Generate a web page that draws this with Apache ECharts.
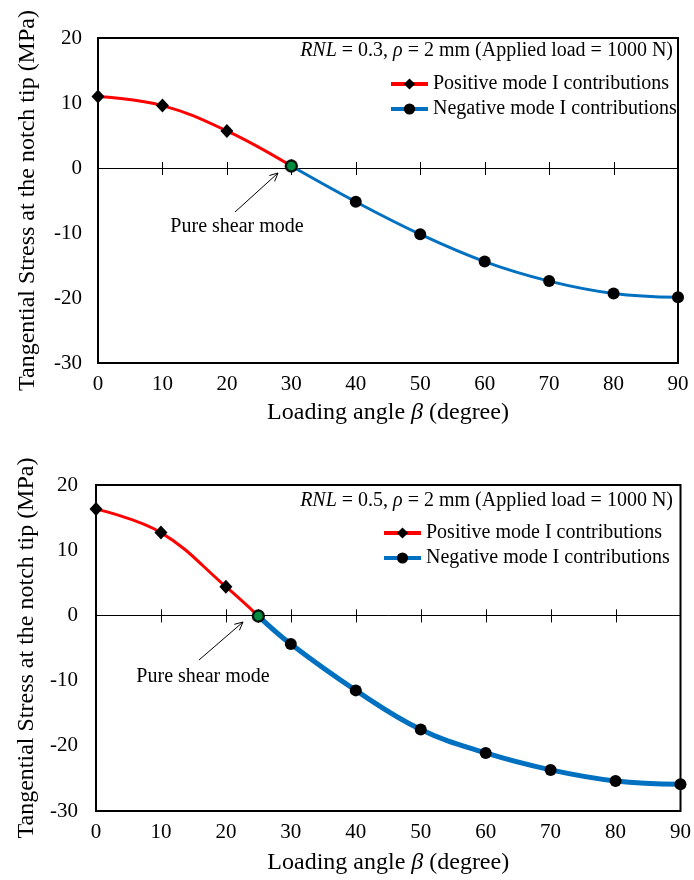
<!DOCTYPE html>
<html><head><meta charset="utf-8">
<script src="https://cdn.jsdelivr.net/npm/echarts@6/dist/echarts.min.js"></script>
<style>html,body{margin:0;padding:0;background:#fff}#c{width:694px;height:880px}</style>
</head><body><div id="c"></div>
<script>
// ---- data ----
const xMin = 0, xMax = 90, xStep = 10;
const yMin = -30, yMax = 20, yStep = 10;
const xTickValues = [10, 20, 30, 40, 50, 60, 70, 80];
const posName = 'Positive mode I contributions';
const negName = 'Negative mode I contributions';

// top panel: RNL = 0.3
const topPosX = [0, 10, 20, 30];
const topPosY = [11.0, 9.6, 5.7, 0.3];
const topNegX = [30, 40, 50, 60, 70, 80, 90];
const topNegY = [0.3, -5.2, -10.2, -14.4, -17.4, -19.3, -19.9];
const topShear = [30, 0.3];

// bottom panel: RNL = 0.5
const botPosX = [0, 10, 20, 25];
const botPosY = [16.3, 12.7, 4.4, -0.1];
const botNegX = [25, 30, 40, 50, 60, 70, 80, 90];
const botNegY = [-0.1, -4.4, -11.5, -17.5, -21.1, -23.7, -25.4, -25.9];
const botShear = [25, -0.1];

const topNote = '{i|RNL} = 0.3, {i|ρ} = 2 mm (Applied load = 1000 N)';
const botNote = '{i|RNL} = 0.5, {i|ρ} = 2 mm (Applied load = 1000 N)';
const shearText = 'Pure shear mode';
const xTitle = 'Loading angle {i|β} (degree)';
const yTitle = 'Tangential Stress at the notch tip (MPa)';

// ---- build ----
const FONT = "'Liberation Serif','Times New Roman',serif";
const zip = (xs, ys) => xs.map((x, i) => [x, ys[i]]);

const rects = [
  {left: 98, top: 38, width: 580, height: 325},
  {left: 96, top: 485, width: 585, height: 326}
];
const TICK_UP = 6, TICK_DOWN = 7;

const gridOpt = rects.map(g => Object.assign({show: true, borderColor: '#000', borderWidth: 2, backgroundColor: 'transparent'}, g));

const xBase = (gi) => ({gridIndex: gi, type: 'value', min: xMin, max: xMax, interval: xStep, splitLine: {show: false}});

function labelXAxis(gi, nameGap, labelMargin) {
  return Object.assign(xBase(gi), {
    position: 'bottom',
    axisLine: {show: false, onZero: false},
    axisTick: {show: false},
    axisLabel: {color: '#000', fontFamily: FONT, fontSize: 21, margin: labelMargin},
    name: xTitle, nameLocation: 'middle', nameGap: nameGap,
    nameTextStyle: {color: '#000', fontFamily: FONT, fontSize: 24, verticalAlign: 'top',
      rich: {i: {fontStyle: 'italic', fontFamily: FONT, fontSize: 24, color: '#000'}}}
  });
}
function zeroXAxis(gi) {
  return Object.assign(xBase(gi), {
    position: 'top',
    axisLine: {show: true, onZero: true, lineStyle: {color: '#000', width: 1}},
    axisTick: {show: false},
    axisLabel: {show: false}
  });
}

function yAxisFor(gi, labelMargin, nameGap) {
  return {
    gridIndex: gi, type: 'value', min: yMin, max: yMax, interval: yStep,
    axisLine: {show: false}, axisTick: {show: false}, splitLine: {show: false},
    axisLabel: {color: '#000', fontFamily: FONT, fontSize: 21, margin: labelMargin},
    name: yTitle, nameLocation: 'middle', nameGap: nameGap, nameRotate: 90,
    nameTextStyle: {color: '#000', fontFamily: FONT, fontSize: 24}
  };
}

function seriesFor(gi, posX, posY, negX, negY, shear, negWidth) {
  const xi = gi * 2;
  return [
    {type: 'line', name: posName, xAxisIndex: xi, yAxisIndex: gi, data: zip(posX, posY),
      smooth: 0.4, symbol: 'diamond', symbolSize: [13, 14], showAllSymbol: true,
      itemStyle: {color: '#000'}, lineStyle: {color: '#FF0000', width: 3}, z: 3},
    {type: 'line', name: negName, xAxisIndex: xi, yAxisIndex: gi, data: zip(negX, negY),
      smooth: 0.4, symbol: 'circle', symbolSize: 12, showAllSymbol: true,
      itemStyle: {color: '#000'}, lineStyle: {color: '#0070C0', width: negWidth}, z: 3},
    {type: 'scatter', name: 'shear', xAxisIndex: xi, yAxisIndex: gi, data: [shear],
      symbol: 'circle', symbolSize: 11,
      itemStyle: {color: '#00B050', borderColor: '#000', borderWidth: 2.5}, z: 5}
  ];
}

function legendFor(left, top) {
  return {
    data: [posName, negName], orient: 'vertical', left: left, top: top, padding: 0,
    itemWidth: 37, itemHeight: 14, itemGap: 5, selectedMode: false,
    lineStyle: {width: 4},
    textStyle: {color: '#000', fontFamily: FONT, fontSize: 20}
  };
}

function arrow(x1, y1, x2, y2) {
  const a = Math.atan2(y2 - y1, x2 - x1), L = 9, s = 0.45;
  return {
    type: 'group', children: [
      {type: 'line', shape: {x1, y1, x2, y2}, style: {stroke: '#000', lineWidth: 1}},
      {type: 'polyline', shape: {points: [
        [x2 - L * Math.cos(a - s), y2 - L * Math.sin(a - s)], [x2, y2],
        [x2 - L * Math.cos(a + s), y2 - L * Math.sin(a + s)]]},
        style: {stroke: '#000', lineWidth: 1, fill: null}}
    ]
  };
}

function note(text, x, y) {
  return {type: 'text', style: {text, x, y, align: 'right', verticalAlign: 'middle',
    fontFamily: FONT, fontSize: 20, fill: '#000',
    rich: {i: {fontStyle: 'italic', fontFamily: FONT, fontSize: 20, fill: '#000'}}}};
}
function label(text, x, y) {
  return {type: 'text', style: {text, x, y, align: 'center', verticalAlign: 'middle',
    fontFamily: FONT, fontSize: 20, fill: '#000'}};
}

const chart = echarts.init(document.getElementById('c'), null, {renderer: 'canvas'});
chart.setOption({
  animation: false,
  backgroundColor: '#fff',
  grid: gridOpt,
  xAxis: [
    labelXAxis(0, 38, 11), zeroXAxis(0),
    labelXAxis(1, 40, 11), zeroXAxis(1)
  ],
  yAxis: [yAxisFor(0, 16, 58), yAxisFor(1, 18, 56)],
  legend: [legendFor(389, 74), legendFor(382, 523)],
  series: [].concat(
    seriesFor(0, topPosX, topPosY, topNegX, topNegY, topShear, 3),
    seriesFor(1, botPosX, botPosY, botNegX, botNegY, botShear, 5)
  ),
  graphic: [
    note(topNote, 673, 51), note(botNote, 673, 501),
    label(shearText, 237, 227), label(shearText, 203, 677),
    arrow(235, 212, 278, 173), arrow(199, 660, 243, 622)
  ]
});

// cross ticks on the zero line, positioned through the axis scales
const tickGraphics = [];
[0, 1].forEach(gi => {
  xTickValues.forEach(v => {
    const p = chart.convertToPixel({gridIndex: gi}, [v, 0]);
    const x = Math.round(p[0]) + 0.5;
    tickGraphics.push({type: 'line', z: 1,
      shape: {x1: x, y1: p[1] - TICK_UP, x2: x, y2: p[1] + TICK_DOWN},
      style: {stroke: '#000', lineWidth: 1}});
  });
});
chart.setOption({graphic: [
  note(topNote, 673, 51), note(botNote, 673, 501),
  label(shearText, 237, 227), label(shearText, 203, 677),
  arrow(235, 212, 278, 173), arrow(199, 660, 243, 622)
].concat(tickGraphics)}, {replaceMerge: ['graphic']});
</script></body></html>
